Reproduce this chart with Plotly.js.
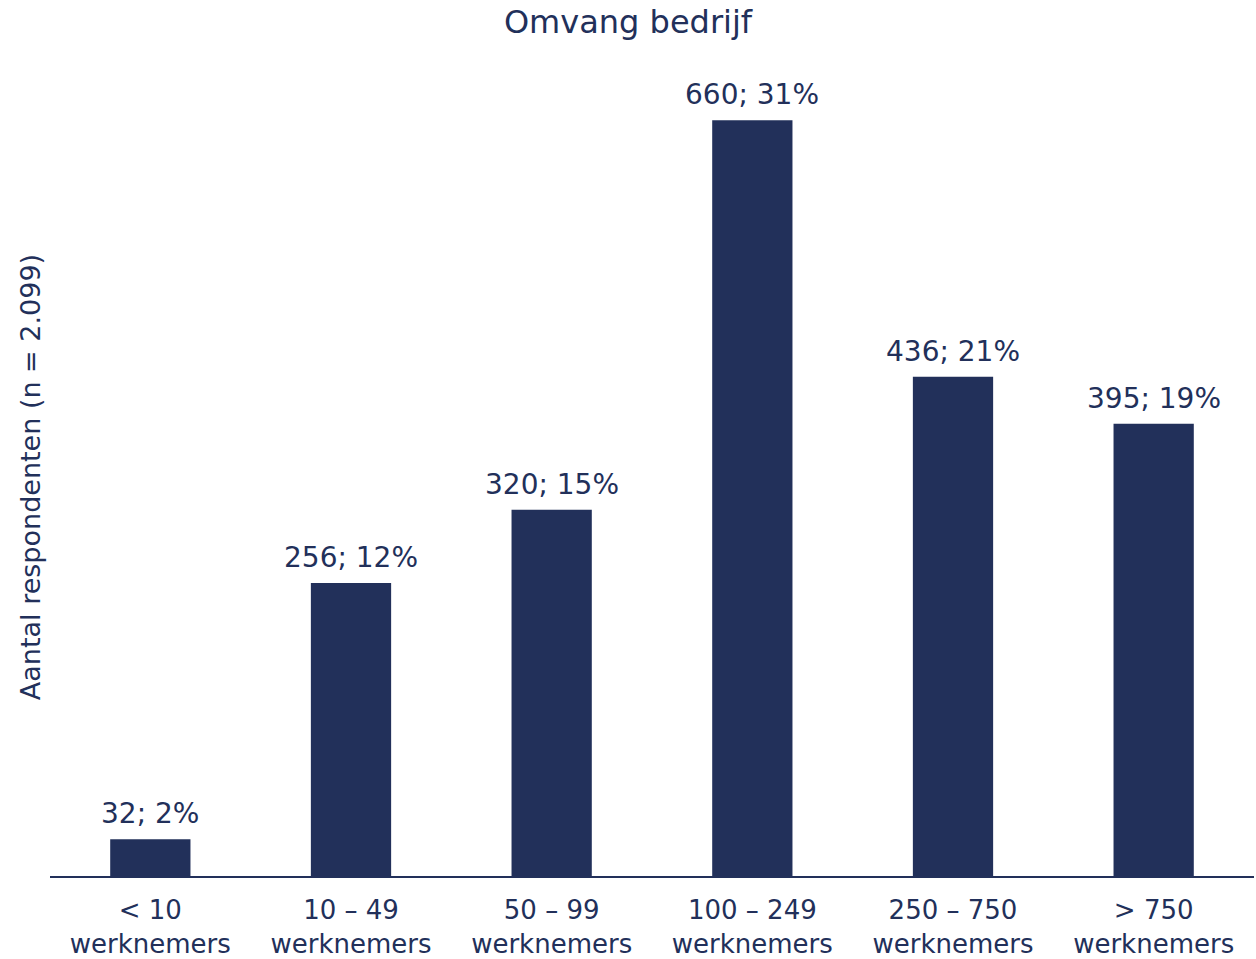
<!DOCTYPE html>
<html><head><meta charset="utf-8">
<script src="https://cdn.plot.ly/plotly-3.0.1.min.js"></script>
<style>body{margin:0;background:#fff}#c{width:1256px;height:959px}</style>
</head><body><div id="c"></div>
<script>
var categories = ["< 10<br>werknemers","10 – 49<br>werknemers","50 – 99<br>werknemers","100 – 249<br>werknemers","250 – 750<br>werknemers","> 750<br>werknemers"];
var counts = [32, 256, 320, 660, 436, 395];
var percents = [2, 12, 15, 31, 21, 19];
var labels = counts.map(function(c,i){return c + "; " + percents[i] + "%";});
var col = "#22305a";
var font = "DejaVu Sans, Verdana, sans-serif";
var annots = categories.map(function(cat,i){
  return {x: cat, y: counts[i], xref: "x", yref: "y", text: labels[i], showarrow: false,
    yanchor: "bottom", yshift: 7, font: {family: font, size: 28, color: col}};
});
Plotly.newPlot("c", [{
  type: "bar", x: categories, y: counts,
  marker: {color: col}, hoverinfo: "none"
}], {
  width: 1256, height: 959,
  margin: {l: 50, r: 2, t: 78, b: 83},
  bargap: 0.6,
  paper_bgcolor: "#fff", plot_bgcolor: "#fff",
  font: {family: font, color: col},
  title: {text: "Omvang bedrijf", font: {family: font, size: 32, color: col}, x: 0.5, xanchor: "center", y: 1 - 22/959, yanchor: "middle", yref: "container"},
  xaxis: {showline: true, linecolor: col, linewidth: 2, ticks: "", ticklabelstandoff: 10, tickfont: {family: font, size: 26, color: col}, showgrid: false},
  yaxis: {range: [0, 697], showgrid: false, zeroline: false, showticklabels: false, ticks: "", showline: false,
    title: {text: "Aantal respondenten (n = 2.099)", font: {family: font, size: 27, color: col}, standoff: 0}},
  annotations: annots,
  showlegend: false
}, {displayModeBar: false, staticPlot: true});
</script></body></html>
